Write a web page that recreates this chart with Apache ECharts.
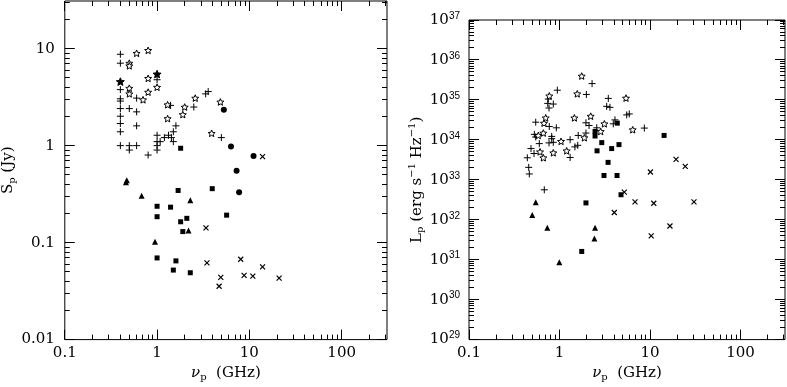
<!DOCTYPE html>
<html>
<head>
<meta charset="utf-8">
<script src="https://cdn.jsdelivr.net/npm/echarts@6/dist/echarts.min.js"></script>
<style>
  html, body { margin: 0; padding: 0; background: #fff; }
  #chart { width: 787px; height: 387px; }
</style>
</head>
<body>
<div id="chart"></div>
<script>
// ---- data (nu_p in GHz) ----
// left panel: peak flux S_p (Jy)
const leftPlus = [
  [0.4, 8.75], [0.4, 7.08], [0.4, 3.78], [0.4, 3.04], [0.4, 2.88], [0.4, 2.41], [0.4, 2.01], [0.4, 1.69], [0.4, 1.39], [0.4, 1.0],
  [0.5, 1.0], [0.5, 0.90], [0.6, 1.0], [0.5, 2.41], [0.6, 3.09], [0.6, 2.23], [0.6, 1.60], [1.0, 4.78], [0.8, 0.80],
  [1.0, 1.28], [1.0, 1.10], [1.0, 1.0], [1.0, 0.90], [1.08, 1.10], [1.2, 1.21], [1.33, 1.28], [1.43, 1.21], [1.5, 1.39],
  [1.5, 1.10], [1.6, 1.60], [1.4, 2.60], [2.5, 2.50], [3.36, 3.42], [3.58, 3.61], [4.97, 1.21]
];
const leftStar = [
  [0.6, 8.96], [0.8, 9.6], [0.5, 7.08], [0.5, 6.65], [0.8, 4.94], [0.5, 3.91], [0.5, 3.42], [0.8, 3.56], [1.0, 4.0],
  [0.705, 2.97], [1.3, 2.64], [1.99, 2.50], [2.59, 3.09], [4.85, 2.82], [1.3, 1.90], [1.9, 2.09], [3.9, 1.34]
];
const leftStarFilled = [[0.4, 4.57], [1.0, 5.47]];
const leftCircle = [[5.29, 2.35], [6.32, 0.98], [11.1, 0.78], [7.27, 0.55], [7.74, 0.33]];
const leftCross = [
  [13.9, 0.77], [3.39, 0.142], [3.47, 0.0618], [8.06, 0.0674], [13.9, 0.0563], [4.9, 0.0438], [8.77, 0.0459],
  [10.9, 0.0452], [21.0, 0.0431], [4.7, 0.0355]
];
const leftSquare = [
  [1.8, 0.94], [1.69, 0.345], [3.96, 0.36], [1.0, 0.237], [1.4, 0.232], [1.0, 0.185], [1.8, 0.164], [2.1, 0.178],
  [1.9, 0.130], [5.67, 0.192], [1.0, 0.0695], [1.6, 0.0648], [1.5, 0.0521], [2.29, 0.0489]
];
const leftTriangle = [[0.46, 0.42], [0.47, 0.44], [0.68, 0.305], [2.29, 0.273], [2.19, 0.133], [0.95, 0.102]];

// right panel: peak luminosity L_p (erg s^-1 Hz^-1)
const rightPlus = [
  [2.29, 2.56e35], [1.98, 1.37e35], [0.946, 1.75e35], [0.752, 1.05e35], [0.741, 8.18e34], [0.854, 7.87e34], [0.766, 6.27e34],
  [3.46, 1.09e35], [3.32, 6.90e34], [3.61, 6.52e34], [0.546, 2.77e34], [0.771, 2.16e34], [0.922, 2.00e34], [1.96, 2.67e34],
  [2.12, 2.29e34], [4.10, 3.16e34], [3.93, 2.52e34], [5.53, 4.21e34], [5.90, 4.46e34], [8.65, 1.97e34], [2.58, 2.00e34],
  [1.96, 1.48e34], [1.61, 1.29e34], [1.31, 1.01e34], [0.820, 1.22e34], [0.820, 1.07e34], [0.527, 1.37e34], [0.546, 1.18e34],
  [0.766, 8.38e33], [0.854, 8.67e33], [0.598, 8.05e33], [0.484, 6.05e33], [0.523, 4.55e33], [0.441, 3.56e33], [0.457, 2.05e33],
  [0.464, 1.40e33], [1.59, 7.31e33], [1.48, 6.67e33], [1.31, 3.62e33], [0.679, 5.62e32]
];
const rightStar = [
  [1.76, 3.95e35], [1.57, 1.42e35], [5.43, 1.11e35], [1.46, 3.55e34], [2.21, 3.91e34], [3.13, 2.52e34], [2.85, 1.62e34],
  [1.88, 1.13e34], [6.44, 1.79e34], [1.04, 9.18e33], [1.20, 5.31e33], [0.854, 4.74e33], [0.609, 5.01e33], [0.663, 3.56e33],
  [0.583, 1.29e34], [0.663, 1.48e34], [0.771, 1.26e35], [0.704, 3.55e34], [0.674, 2.62e34]
];
const rightSquare = [
  [4.35, 2.62e34], [14.3, 1.29e34], [2.47, 1.62e34], [2.47, 1.25e34], [2.93, 8.53e33], [4.54, 7.60e33], [2.60, 5.31e33],
  [3.77, 6.05e33], [3.44, 2.73e33], [3.10, 1.28e33], [4.32, 1.28e33], [4.78, 4.23e32], [1.96, 2.64e32], [1.76, 1.61e31]
];
const rightTriangle = [[0.546, 2.74e32], [0.500, 1.31e32], [0.733, 6.34e31], [2.47, 6.34e31], [2.43, 3.39e31], [0.995, 8.63e30]];
const rightCross = [
  [19.4, 3.24e33], [24.5, 2.17e33], [10.1, 1.57e33], [5.20, 4.93e32], [6.83, 2.79e32], [11.0, 2.59e32], [30.6, 2.79e32],
  [4.03, 1.52e32], [16.6, 6.98e31], [10.3, 3.95e31]
];

// axis ranges and tick positions (mantissa x decade)
const xRange = [0.1, 310];
const leftYRange = [0.01, 31];
const rightYRange = [1e29, 1e37];
const tickMantissas = [1, 2, 3, 4, 5, 6, 7, 8, 9];
const xDecades = [0.1, 1, 10, 100];
const leftYDecades = [0.01, 0.1, 1, 10];
const rightYDecades = [1e29, 1e30, 1e31, 1e32, 1e33, 1e34, 1e35, 1e36, 1e37];

const SERIF = "'DejaVu Serif', serif";
const SANS = "'Liberation Sans', sans-serif";

function ticksFor(decades, range) {
  const out = [];
  decades.forEach(d => tickMantissas.forEach(m => {
    const v = m * d;
    if (v >= range[0] * 0.999 && v <= range[1] * 1.001) out.push({ v: v, major: m === 1 });
  }));
  return out;
}

const crisp = p => Math.round(p - 0.5) + 0.5;

// inward ticks on all four sides of a panel
function tickSeries(gi, xr, yr, yDecades) {
  const items = [];
  ticksFor(xDecades, xr).forEach(t => items.push({ dir: 'x', v: t.v, major: t.major }));
  ticksFor(yDecades, yr).forEach(t => items.push({ dir: 'y', v: t.v, major: t.major }));
  return {
    type: 'custom',
    xAxisIndex: gi,
    yAxisIndex: gi,
    silent: true,
    clip: false,
    z: 5,
    data: items.map(t => t.dir === 'x' ? [t.v, yr[0]] : [xr[0], t.v]),
    renderItem: function (params, api) {
      const t = items[params.dataIndex];
      const len = t.major ? 10 : 5;
      const st = { stroke: '#000', lineWidth: 1 };
      let a, b;
      if (t.dir === 'x') {
        const p0 = api.coord([t.v, yr[0]]);
        const p1 = api.coord([t.v, yr[1]]);
        const x = crisp(p0[0]);
        a = { x1: x, y1: p0[1], x2: x, y2: p0[1] - len };
        b = { x1: x, y1: p1[1], x2: x, y2: p1[1] + len };
      } else {
        const p0 = api.coord([xr[0], t.v]);
        const p1 = api.coord([xr[1], t.v]);
        const y = crisp(p0[1]);
        a = { x1: p0[0], y1: y, x2: p0[0] + len, y2: y };
        b = { x1: p1[0], y1: y, x2: p1[0] - len, y2: y };
      }
      return {
        type: 'group',
        children: [
          { type: 'line', shape: a, style: st },
          { type: 'line', shape: b, style: st }
        ]
      };
    }
  };
}

const PLUS = 'path://M0,-10L0,10M-10,0L10,0';
const CROSS = 'path://M-10,-10L10,10M-10,10L10,-10';
const STAR = 'path://M0,-100L26,-36L95,-31L43,14L59,81L0,45L-59,81L-43,14L-95,-31L-26,-36Z';

function scatter(gi, data, symbol, size, fill, stroke, bw) {
  return {
    type: 'scatter',
    xAxisIndex: gi,
    yAxisIndex: gi,
    data: data,
    symbol: symbol,
    symbolSize: size,
    symbolKeepAspect: true,
    silent: true,
    z: 3,
    itemStyle: { color: fill, borderColor: stroke, borderWidth: bw, opacity: 1 }
  };
}

function markSeries(gi, sets) {
  const out = [];
  if (sets.plus) out.push(scatter(gi, sets.plus, PLUS, 7, 'none', '#000', 1));
  if (sets.star) out.push(scatter(gi, sets.star, STAR, 7, '#fff', '#000', 1));
  if (sets.starFilled) out.push(scatter(gi, sets.starFilled, STAR, 8, '#000', '#000', 1));
  if (sets.circle) out.push(scatter(gi, sets.circle, 'circle', 6, '#000', '#000', 0));
  if (sets.square) out.push(scatter(gi, sets.square, 'rect', 5, '#000', '#000', 0));
  if (sets.triangle) out.push(scatter(gi, sets.triangle, 'triangle', 6, '#000', '#000', 0));
  if (sets.cross) out.push(scatter(gi, sets.cross, CROSS, 5, 'none', '#000', 1.2));
  return out;
}

const baseRich = {
  b: { fontFamily: SERIF, fontSize: 15, lineHeight: 18, color: '#000' },
  i: { fontFamily: SERIF, fontStyle: 'italic', fontSize: 15, lineHeight: 18, color: '#000' },
  sub: { fontFamily: SERIF, fontSize: 10, lineHeight: 7, verticalAlign: 'bottom', color: '#000' },
  sup: { fontFamily: SERIF, fontSize: 10, lineHeight: 8, verticalAlign: 'top', color: '#000' },
  s: { fontFamily: SANS, fontSize: 10, lineHeight: 8, verticalAlign: 'top', color: '#000' }
};

const numFmt = v => String(+(+v).toPrecision(3));

function xAxis(gi) {
  return {
    type: 'log',
    logBase: 10,
    gridIndex: gi,
    min: xRange[0],
    max: xRange[1],
    axisLine: { show: false },
    axisTick: { show: false },
    splitLine: { show: false },
    axisLabel: {
      fontFamily: SERIF, fontSize: 15, color: '#000', margin: 6,
      showMaxLabel: false,
      formatter: numFmt
    },
    name: '{i|ν}{sub|p}{b|  (GHz)}',
    nameLocation: 'middle',
    nameGap: 12,
    nameTextStyle: { rich: baseRich }
  };
}

const option = {
  animation: false,
  backgroundColor: '#fff',
  grid: [
    { left: 43, top: 1, width: 344, height: 342, show: true, borderColor: '#000', borderWidth: 1, backgroundColor: 'transparent' },
    { left: 469, top: 20, width: 316, height: 323, show: true, borderColor: '#000', borderWidth: 1, backgroundColor: 'transparent' }
  ],
  xAxis: [xAxis(0), xAxis(1)],
  yAxis: [
    {
      type: 'log', logBase: 10, gridIndex: 0,
      min: leftYRange[0], max: leftYRange[1],
      axisLine: { show: false }, axisTick: { show: false }, splitLine: { show: false },
      axisLabel: { fontFamily: SERIF, fontSize: 15, color: '#000', margin: 10, showMaxLabel: false, formatter: numFmt },
      name: '{b|S}{sub|p}{b| (Jy)}',
      nameLocation: 'middle',
      nameGap: 26,
      nameTextStyle: { rich: baseRich }
    },
    {
      type: 'log', logBase: 10, gridIndex: 1,
      min: rightYRange[0], max: rightYRange[1],
      axisLine: { show: false }, axisTick: { show: false }, splitLine: { show: false },
      axisLabel: {
        margin: 9,
        formatter: v => '{b|10}{s|' + Math.round(Math.log10(v)) + '}',
        rich: baseRich
      },
      name: '{b|L}{sub|p}{b| (erg s}{sup|−1}{b| Hz}{sup|−1}{b|)}',
      nameLocation: 'middle',
      nameGap: 42,
      nameTextStyle: { rich: baseRich }
    }
  ],
  series: [].concat(
    markSeries(0, {
      plus: leftPlus, star: leftStar, starFilled: leftStarFilled, circle: leftCircle,
      square: leftSquare, triangle: leftTriangle, cross: leftCross
    }),
    markSeries(1, {
      plus: rightPlus, star: rightStar, square: rightSquare, triangle: rightTriangle, cross: rightCross
    }),
    [tickSeries(0, xRange, leftYRange, leftYDecades), tickSeries(1, xRange, rightYRange, rightYDecades)]
  )
};

const chart = echarts.init(document.getElementById('chart'), null, { renderer: 'canvas' });
chart.setOption(option);
</script>
</body>
</html>
